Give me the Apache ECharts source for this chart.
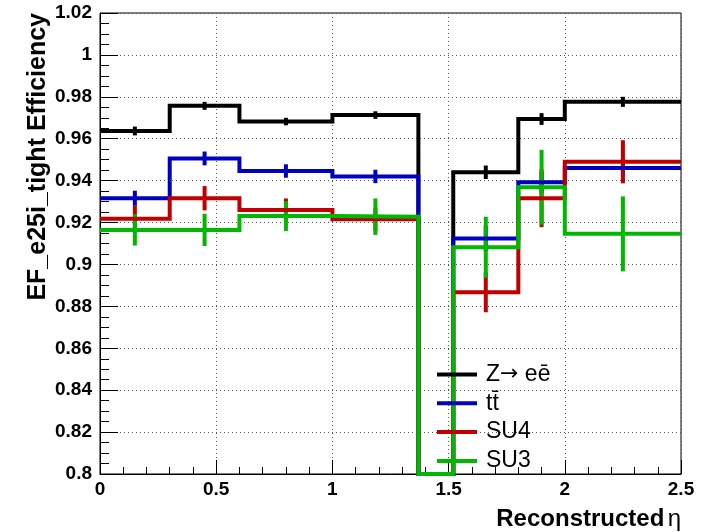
<!DOCTYPE html>
<html>
<head>
<meta charset="utf-8">
<style>
  html, body { margin: 0; padding: 0; background: #fff; }
  #chart { width: 709px; height: 532px; }
</style>
<script src="https://cdn.jsdelivr.net/npm/echarts@6/dist/echarts.min.js"></script>
</head>
<body>
<div id="chart"></div>
<script>
// Trigger efficiency vs reconstructed eta, per sample
const binEdges = [0, 0.3, 0.6, 1.0, 1.37, 1.52, 1.8, 2.0, 2.5];

const zeeEff   = [0.9637, 0.9757, 0.9682, 0.9713, 0, 0.9440, 0.9694, 0.9776];
const zeeErr   = [0.0021, 0.0019, 0.0018, 0.0018, 0, 0.0032, 0.0028, 0.0024];

const ttbarEff = [0.9316, 0.9506, 0.9446, 0.9420, 0, 0.9124, 0.9392, 0.9460];
const ttbarErr = [0.0036, 0.0033, 0.0032, 0.0032, 0, 0.0060, 0.0050, 0.0040];

const su4Eff   = [0.9218, 0.9316, 0.9260, 0.9216, 0, 0.8867, 0.9316, 0.9490];
const su4Err   = [0.0063, 0.0058, 0.0055, 0.0055, 0, 0.0095, 0.0138, 0.0103];

const su3Eff   = [0.9165, 0.9165, 0.9231, 0.9228, 0, 0.9082, 0.9368, 0.9146];
const su3Err   = [0.0075, 0.0077, 0.0071, 0.0087, 0, 0.0146, 0.0179, 0.0179];

const seriesNames = ['Z\u2192 e\u0113', 't\u0074\u0304', 'SU4', 'SU3'];
const seriesColors = ['#000000', '#0000c0', '#c00000', '#00b800'];

const yMin = 0.8, yMax = 1.02;
const FONT = '"Liberation Sans", Arial, sans-serif';

// Step outline of a histogram; empty bins sit on the frame floor
function stepPoints(vals) {
  const pts = [];
  for (let i = 0; i < vals.length; i++) {
    const v = Math.max(vals[i], yMin);
    pts.push([binEdges[i], v], [binEdges[i + 1], v]);
  }
  return pts;
}

function errPoints(vals, errs) {
  return vals.map((v, i) => [(binEdges[i] + binEdges[i + 1]) / 2, v, errs[i]]);
}

const samples = [
  [zeeEff, zeeErr], [ttbarEff, ttbarErr], [su4Eff, su4Err], [su3Eff, su3Err]
];

const series = [];
samples.forEach(([vals, errs], k) => {
  series.push({
    name: seriesNames[k],
    type: 'line',
    data: stepPoints(vals),
    showSymbol: false,
    symbol: 'none',
    clip: false,
    lineStyle: { color: seriesColors[k], width: 4, join: 'miter' },
    itemStyle: { color: seriesColors[k] },
    silent: true,
    animation: false
  });
  series.push({
    name: seriesNames[k],
    type: 'custom',
    data: errPoints(vals, errs),
    clip: false,
    silent: true,
    animation: false,
    itemStyle: { color: seriesColors[k] },
    renderItem: function (params, api) {
      const err = api.value(2);
      if (!err) return null;
      const x = api.value(0), v = api.value(1);
      const p1 = api.coord([x, v - err]);
      const p2 = api.coord([x, v + err]);
      return {
        type: 'line',
        shape: { x1: p1[0], y1: p1[1], x2: p2[0], y2: p2[1] },
        style: { stroke: seriesColors[k], lineWidth: 4 }
      };
    }
  });
});

const chart = echarts.init(document.getElementById('chart'), null, { renderer: 'canvas' });
chart.setOption({
  backgroundColor: '#ffffff',
  animation: false,
  grid: {
    left: 100, right: 28, top: 13, bottom: 58,
    show: true, borderColor: '#000', borderWidth: 1, backgroundColor: 'transparent'
  },
  xAxis: {
    type: 'value', min: 0, max: 2.5, interval: 0.5,
    axisLine: { show: true, onZero: false, lineStyle: { color: '#000', width: 1 } },
    axisTick: { show: true, inside: true, length: 14, lineStyle: { color: '#000', width: 1 } },
    minorTick: { show: true, splitNumber: 5, length: 7, lineStyle: { color: '#000', width: 1 } },
    axisLabel: { color: '#000', fontFamily: FONT, fontWeight: 'bold', fontSize: 19, margin: 6 },
    splitLine: { show: true, lineStyle: { color: '#555', width: 1, type: [1, 3] } }
  },
  yAxis: {
    type: 'value', min: yMin, max: yMax, interval: 0.02,
    axisLine: { show: true, onZero: false, lineStyle: { color: '#000', width: 1 } },
    axisTick: { show: true, inside: true, length: 18, lineStyle: { color: '#000', width: 1 } },
    minorTick: { show: true, splitNumber: 4, length: 9, lineStyle: { color: '#000', width: 1 } },
    axisLabel: { color: '#000', fontFamily: FONT, fontWeight: 'bold', fontSize: 19, margin: 8 },
    splitLine: { show: true, lineStyle: { color: '#555', width: 1, type: [1, 3] } }
  },
  legend: {
    data: seriesNames,
    orient: 'vertical',
    left: 437, top: 363,
    padding: 0,
    itemWidth: 40, itemHeight: 4, itemGap: 5.8,
    icon: 'rect',
    selectedMode: false,
    formatter: function (name) {
      return name.replace('\u2192', '{ar|\u2192}');
    },
    textStyle: {
      color: '#000', fontFamily: FONT, fontSize: 23, padding: [0, 0, 0, 4],
      rich: {
        ar: { fontFamily: '"DejaVu Sans", sans-serif', fontSize: 22, color: '#000' }
      }
    }
  },
  graphic: [
    {
      type: 'text',
      x: 38, y: 13,
      rotation: Math.PI / 2,
      style: {
        text: 'EF_e25i_tight Efficiency',
        fontFamily: FONT, fontWeight: 'bold', fontSize: 25,
        fill: '#000', align: 'right', verticalAlign: 'middle'
      }
    },
    {
      type: 'text',
      x: 681, y: 519,
      style: {
        text: '{b|Reconstructed} {n|\u03b7}',
        align: 'right', verticalAlign: 'middle',
        rich: {
          b: { fontFamily: FONT, fontWeight: 'bold', fontSize: 24, fill: '#000' },
          n: { fontFamily: FONT, fontSize: 24, fill: '#000' }
        }
      }
    }
  ],
  series: series
});
</script>
</body>
</html>
